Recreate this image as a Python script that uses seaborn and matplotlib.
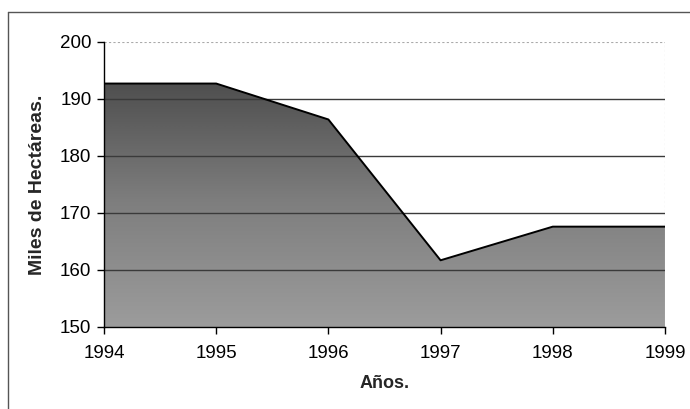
import numpy as np
import pandas as pd
import matplotlib
matplotlib.use("Agg")
import matplotlib.pyplot as plt
import seaborn as sns
from matplotlib.colors import LinearSegmentedColormap
from matplotlib.lines import Line2D

years = [1994, 1995, 1996, 1997, 1998, 1999]
hectareas = [192.7, 192.7, 186.4, 161.7, 167.6, 167.6]
yticks = [150, 160, 170, 180, 190, 200]

df = pd.DataFrame({"Año": years, "Miles": hectareas})

sns.set_theme(style="white")
plt.rcParams["font.family"] = ["Liberation Sans", "DejaVu Sans"]

fig = plt.figure(figsize=(6.9, 4.09), dpi=100)
ax = fig.add_axes([0.1507, 0.2005, 0.8130, 0.6970])

# area fill with gradient
poly = ax.fill_between(df["Año"], df["Miles"], 150, color="none", lw=0, zorder=2)
cmap = LinearSegmentedColormap.from_list("g", ["#9c9c9c", "#7e7e7e", "#4c4c4c"])
grad = np.linspace(0, 1, 256).reshape(-1, 1)
im = ax.imshow(grad, cmap=cmap, aspect="auto", origin="lower",
               extent=[1994, 1999, 150, 194], zorder=2, interpolation="bilinear")
path = poly.get_paths()[0]
im.set_clip_path(path, transform=ax.transData)

sns.lineplot(data=df, x="Año", y="Miles", ax=ax, color="black", lw=1.4, zorder=4)

ax.set_xlim(1994, 1999)
ax.set_ylim(150, 200)
ax.set_xticks(years)
ax.set_yticks(yticks)
ax.set_xticklabels([str(y) for y in years], fontsize=13.5)
ax.set_yticklabels([str(v) for v in yticks], fontsize=13.5)

for v in [160, 170, 180, 190]:
    ax.axhline(v, color="#3a3a3a", lw=1.0, zorder=3)
ax.axhline(200, color="#aaaaaa", lw=0.8, ls=(0, (2, 2)), zorder=3)

for s in ["top", "right"]:
    ax.spines[s].set_visible(False)
ax.axvline(1999, color="#aaaaaa", lw=0.8, ls=(0, (2, 2)), zorder=1)
for s in ["left", "bottom"]:
    ax.spines[s].set_color("black")
    ax.spines[s].set_linewidth(1.0)
    ax.spines[s].set_zorder(5)
ax.tick_params(axis="both", direction="out", length=5, width=1.0, color="black",
               labelcolor="black", left=True, bottom=True)
ax.tick_params(axis="x", pad=8)
ax.tick_params(axis="y", pad=4)

ax.set_xlabel("Años.", fontsize=13, fontweight="bold", labelpad=9)
ax.set_ylabel("Miles de Hectáreas.", fontsize=14, fontweight="bold", labelpad=10)

# outer chart frame
W, H = 690, 409
kw = dict(color="#555555", lw=1.0, transform=fig.transFigure)
fig.add_artist(Line2D([8 / W, 8 / W], [0, 1 - 12 / H], **kw))
fig.add_artist(Line2D([8 / W, 1.0], [1 - 12 / H, 1 - 12 / H], **kw))

fig.savefig("out.png", dpi=100)
